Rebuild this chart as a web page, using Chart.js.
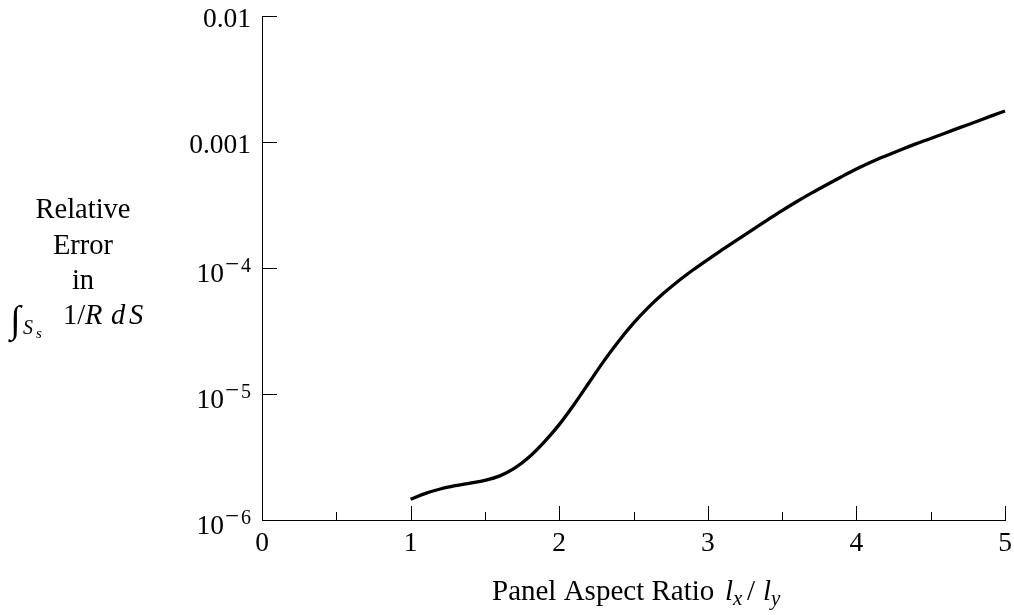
<!DOCTYPE html>
<html><head><meta charset="utf-8">
<style>html,body{margin:0;padding:0;background:#fff;}#wrap{width:1014px;height:615px;}</style>
<script src="https://cdn.jsdelivr.net/npm/chart.js@4.4.0/dist/chart.umd.min.js"></script>
</head><body><div id="wrap"><canvas id="c" width="1014" height="615"></canvas></div>
<script>
const aspectRatios = [1.0,1.1,1.2,1.3,1.4,1.5,1.6,1.7,1.8,1.9,2.0,2.1,2.2,2.3,2.4,2.5,2.6,2.7,2.8,2.9,3.0,3.1,3.2,3.3,3.4,3.5,3.6,3.7,3.8,3.9,4.0,4.1,4.2,4.3,4.4,4.5,4.6,4.7,4.8,4.9,5.0];
const relativeError = [1.459e-6,1.626e-6,1.762e-6,1.871e-6,1.963e-6,2.065e-6,2.239e-6,2.582e-6,3.177e-6,4.169e-6,5.715e-6,8.260e-6,1.227e-5,1.824e-5,2.624e-5,3.648e-5,4.864e-5,6.266e-5,7.852e-5,9.638e-5,1.167e-4,1.403e-4,1.683e-4,2.009e-4,2.399e-4,2.858e-4,3.373e-4,3.945e-4,4.581e-4,5.297e-4,6.095e-4,6.934e-4,7.780e-4,8.690e-4,9.661e-4,1.067e-3,1.180e-3,1.306e-3,1.442e-3,1.596e-3,1.762e-3];
const xMajorTicks = [0,1,2,3,4,5];
const xMinorTicks = [0.5,1.5,2.5,3.5,4.5];
const yTicks = [1e-6,1e-5,1e-4,1e-3,1e-2];
const yTickBase = ["10","10","10","0.001","0.01"];
const yTickExp = ["6","5","4","",""];
const yTitleLines = ["Relative","Error","in"];
const xTitleText = "Panel Aspect Ratio";

const SERIF = "'Liberation Serif','DejaVu Serif',serif";

const decor = {
  id:'decor',
  afterDraw(chart){
    const ctx = chart.ctx, xs = chart.scales.x, ys = chart.scales.y;
    const left = chart.chartArea.left, bottom = chart.chartArea.bottom;
    ctx.save();
    ctx.strokeStyle = '#000'; ctx.lineWidth = 1;
    yTicks.forEach(v=>{
      const y = Math.round(ys.getPixelForValue(v))+0.5;
      ctx.beginPath(); ctx.moveTo(left, y); ctx.lineTo(left+15, y); ctx.stroke();
    });
    xMajorTicks.forEach(v=>{
      const x = Math.round(xs.getPixelForValue(v))+0.5;
      ctx.beginPath(); ctx.moveTo(x, bottom); ctx.lineTo(x, bottom-14); ctx.stroke();
    });
    xMinorTicks.forEach(v=>{
      const x = Math.round(xs.getPixelForValue(v))+0.5;
      ctx.beginPath(); ctx.moveTo(x, bottom); ctx.lineTo(x, bottom-8); ctx.stroke();
    });
    ctx.fillStyle = '#000';
    ctx.textBaseline = 'alphabetic';
    const rx = left - 11;
    yTicks.forEach((v,i)=>{
      const y = ys.getPixelForValue(v);
      let x = rx;
      ctx.textAlign = 'right';
      if (yTickExp[i]) {
        ctx.font = '20px ' + SERIF;
        ctx.fillText(yTickExp[i], x, y+4);
        x -= ctx.measureText(yTickExp[i]).width + 2;
        ctx.font = '25px ' + SERIF;
        ctx.fillText('\u2212', x, y+4);
        x -= ctx.measureText('\u2212').width + 1;
        ctx.font = '27.5px ' + SERIF;
        ctx.fillText(yTickBase[i], x, y+13.5);
      } else {
        ctx.font = '27.5px ' + SERIF;
        ctx.fillText(yTickBase[i], x, y+11);
      }
    });
    ctx.textAlign = 'center'; ctx.font = '27.5px ' + SERIF;
    xMajorTicks.forEach(v=>{
      ctx.fillText(String(v), xs.getPixelForValue(v), bottom+31);
    });
    ctx.font = '28.5px ' + SERIF;
    yTitleLines.forEach((t,i)=>{ ctx.fillText(t, 83, 218 + i*35.5); });
    ctx.textAlign = 'left';
    ctx.font = '38px ' + SERIF; ctx.fillText('\u222B', 10, 332);
    ctx.font = 'italic 20px ' + SERIF; ctx.fillText('S', 23, 334);
    ctx.font = 'italic 15px ' + SERIF; ctx.fillText('s', 36, 338);
    ctx.font = '28.5px ' + SERIF; ctx.fillText('1/', 63, 324);
    ctx.font = 'italic 28.5px ' + SERIF; ctx.fillText('R', 85, 324);
    ctx.fillText('d', 111, 324); ctx.fillText('S', 129, 324);
    const by = 600;
    ctx.font = '29px ' + SERIF; ctx.fillText(xTitleText, 492, by);
    ctx.font = 'italic 29px ' + SERIF; ctx.fillText('l', 725, by);
    ctx.font = 'italic 21px ' + SERIF; ctx.fillText('x', 733, by+5);
    ctx.font = '29px ' + SERIF; ctx.fillText('/', 747, by);
    ctx.font = 'italic 29px ' + SERIF; ctx.fillText('l', 763, by);
    ctx.font = 'italic 21px ' + SERIF; ctx.fillText('y', 771, by+5);
    ctx.restore();
  }
};

new Chart(document.getElementById('c'), {
  type:'line',
  data:{datasets:[{
    data: aspectRatios.map((x,i)=>({x:x, y:relativeError[i]})),
    borderColor:'#000', borderWidth:3.3, pointRadius:0, fill:false,
    cubicInterpolationMode:'monotone', clip:false
  }]},
  options:{
    responsive:false, animation:false, devicePixelRatio:1,
    layout:{padding:{left:0,right:9,top:16,bottom:0}},
    plugins:{legend:{display:false}, tooltip:{enabled:false}},
    scales:{
      x:{type:'linear', min:0, max:5,
         grid:{display:false, drawTicks:false},
         border:{display:true, color:'#000', width:1},
         ticks:{display:false},
         afterFit(s){ s.height = 95; }},
      y:{type:'logarithmic', min:1e-6, max:1e-2,
         grid:{display:false, drawTicks:false},
         border:{display:true, color:'#000', width:1},
         ticks:{display:false},
         afterFit(s){ s.width = 262; }}
    }
  },
  plugins:[decor]
});
</script>
</body></html>
